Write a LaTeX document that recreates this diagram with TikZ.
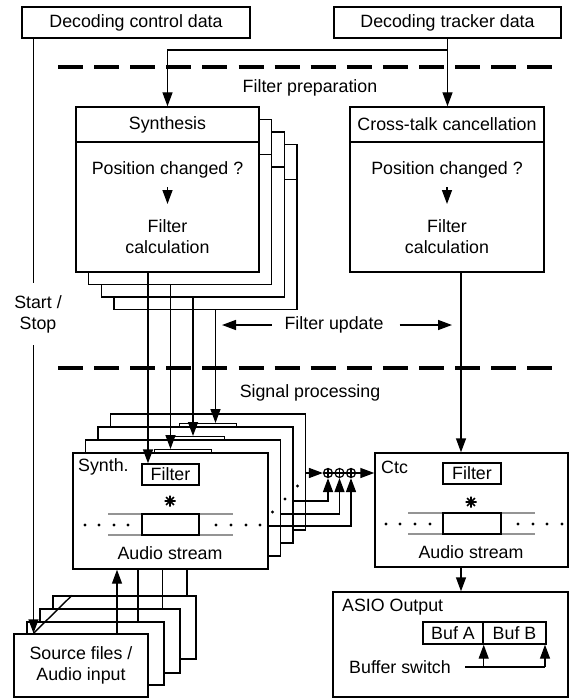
\documentclass[tikz,border=0pt]{standalone}
\usepackage{fontspec}
\setmainfont{Liberation Sans}
\usetikzlibrary{arrows.meta,calc}
\newcommand\rbox[6]{\node[box,minimum width={(#4)-(#2)},minimum height={(#5)-(#3)}] (#1) at ({((#2)+(#4))/2},{((#3)+(#5))/2}) {#6};}
% back copy of a synthesis box (its texts are hidden by the front box)
\newcommand\synback[3]{%
\begin{scope}[shift={(#2,#3)}]
 \rbox{#1}{76}{107}{259}{272}{}
 \rbox{#1h}{76}{107}{259}{142}{}
\end{scope}}
% back copy of a processing box
\newcommand\procback[3]{%
\begin{scope}[shift={(#2,#3)}]
 \rbox{#1}{73}{453}{268}{569}{}
 \node[box,line width=1pt,minimum width=57pt,minimum height=22pt] (#1f) at (170.5,473.5) {};
 \foreach \x in {216,231,246,260} \node[dot] at (\x,525) {};
\end{scope}}
\begin{document}
\begin{tikzpicture}[x=1pt,y=-1pt,
  font=\fontsize{17.8}{21}\selectfont,
  ln/.style={line width=1.4pt},
  arr/.style={line width=1.4pt,-{Triangle[length=14pt,width=10pt]}},
  box/.style={draw,line width=1.4pt,fill=white,inner sep=0pt,align=center},
  sep/.style={line width=3.3pt,dash pattern=on 25pt off 11.1pt},
  txt/.style={inner sep=0pt,align=center},
  dot/.style={circle,fill,inner sep=0pt,minimum size=3.2pt},
  graylin/.style={line width=1.4pt,draw=black!42},
  sumc/.style={circle,draw,line width=1.2pt,fill=white,inner sep=0pt,minimum size=9pt},
  convstar/.pic={\draw[line width=1.7pt] (-5.5,0) -- (5.5,0) (0,-5.5) -- (0,5.5) (-3.9,-3.9) -- (3.9,3.9) (-3.9,3.9) -- (3.9,-3.9);}
]
\useasboundingbox[fill=white] (0,0) rectangle (573,698);
% top boxes
\rbox{ctrl}{22}{7}{250}{38}{Decoding control data}
\rbox{trk}{334}{7}{561}{38}{Decoding tracker data}
% separators and section titles
\draw[sep] (58,67) -- (552,67);
\draw[sep] (58,368) -- (552,368);
\node[txt] (fp) at (310,88) {Filter preparation};
\node[txt] (sp) at (310,393) {Signal processing};
% synthesis stack
\synback{syn3}{38.1}{37.5}
\synback{syn2}{25.4}{25}
\synback{syn1}{12.7}{12.5}
\rbox{syn0}{76}{107}{259}{272}{}
\rbox{syn0h}{76}{107}{259}{142}{Synthesis}
\node[txt] (syn0p) at (167.5,170) {Position changed ?};
\node[txt] (syn0c) at (167.5,237) {Filter\\calculation};
\coordinate (syn0a) at (167.5,187);
\coordinate (syn0b) at (167.5,204);
\draw[arr] (syn0a) -- (syn0b);
% cross-talk cancellation
\rbox{ct}{350}{107}{544}{272}{}
\rbox{cth}{350}{107}{544}{142}{Cross-talk cancellation}
\node[txt] (ctp) at (447,170) {Position changed ?};
\node[txt] (ctcal) at (447,237) {Filter\\calculation};
\coordinate (cta) at (447,187);
\coordinate (ctb) at (447,204);
\draw[arr] (cta) -- (ctb);
% processing stack
\procback{p3}{37.5}{-39}
\procback{p2}{25}{-26}
\procback{p1}{12.5}{-13}
\rbox{p0}{73}{453}{268}{569}{}
\node[txt,anchor=west] (p0t) at (78,467) {Synth.};
\rbox{p0f}{142}{464}{199}{485}{Filter}
\pic at (170,501) {convstar};
\draw[graylin] (108,514) -- (233,514) (108,535) -- (233,535);
\rbox{p0r}{142}{514}{199}{535}{}
\foreach \x in {85,99,114,128,216,231,246,260} \node[dot] at (\x,525) {};
\node[txt] (p0a) at (170,553) {Audio stream};
% Ctc
\rbox{ctc}{375}{453}{568}{567}{}
\node[txt,anchor=west] (ctct) at (381,467) {Ctc};
\rbox{ctcf}{443}{463}{501}{484}{Filter}
\pic at (471,502) {convstar};
\draw[graylin] (408,513) -- (535,513) (408,534) -- (535,534);
\rbox{ctcr}{443}{513}{501}{534}{}
\foreach \x in {386,400,415,430,518,533,547,562} \node[dot] at (\x,524) {};
\node[txt] (ctcas) at (471,552) {Audio stream};
% ASIO
\rbox{asio}{333}{592}{568}{697}{}
\node[txt,anchor=west] (asiot) at (342,607) {ASIO Output};
\rbox{bufa}{423}{622}{483}{644}{Buf A}
\rbox{bufb}{483}{622}{546}{644}{Buf B}
\node[txt,anchor=east] (bsw) at (451,667) {Buffer switch};
% sources
\rbox{src3}{53}{596}{196}{659}{}
\rbox{src2}{40}{609}{180}{673}{}
\rbox{src1}{27}{622}{164}{685}{}
\rbox{src0}{14}{634}{148}{697}{Source files /\\Audio input}
% helper coordinates
\coordinate (xs) at (33.5,0);
\coordinate (xd) at (72,0);
\coordinate (br) at (447.5,50);
\coordinate (xa) at (148,0);
\coordinate (xb) at (170.5,0);
\coordinate (xc) at (193,0);
\coordinate (xe) at (215.5,0);
\coordinate (xr) at (461,0);
\coordinate (xu) at (117,0);
\coordinate (xv) at (138,0);
\coordinate (xw) at (162.5,0);
\coordinate (xz) at (187,0);
\coordinate (y2) at (0,501);
\coordinate (y1) at (0,514);
\coordinate (y0) at (0,526);
\coordinate (fuL) at (222,325);
\coordinate (fuR) at (452,325);
\coordinate (bsR) at (545,667);
% control line with start/stop
\draw[arr] (ctrl.south -| xs) -- (src0.north -| xs);
\node[fill=white,align=center,inner sep=0pt,minimum width=68pt,minimum height=62pt] (ss) at (38,314) {Start /\\Stop};
\draw[ln] (src0.north -| xs) -- (src3.north -| xd);
% tracker data
\draw[arr] (trk.south) -- (ct.north -| trk.south);
\draw[arr] (br) -| (syn0h.north);
% synthesis to processing
\draw[arr] (syn0.south -| xa) -- (p0f.north -| xa);
\draw[arr] (syn1.south -| xb) -- (p1f.north -| xb);
\draw[arr] (syn2.south -| xc) -- (p2f.north -| xc);
\draw[arr] (syn3.south -| xe) -- (p3f.north -| xe);
% filter update
\node[txt] (fu) at (334,325) {Filter update};
\draw[arr] ([xshift=-12.5pt]fu.west) -- (fuL);
\draw[arr] ([xshift=16pt]fu.east) -- (fuR);
% crosstalk to ctc to asio
\draw[arr] (ct.south -| xr) -- (ctc.north -| xr);
\draw[arr] (ctc.south -| xr) -- (asio.north -| xr);
% summation
\node[sumc] (s1) at (328,473) {};
\node[sumc] (s2) at (339.5,473) {};
\node[sumc] (s3) at (351,473) {};
\foreach \s in {s1,s2,s3} \draw[line width=1.2pt] (\s.north) -- (\s.south) (\s.west) -- (\s.east);
\draw[arr] (p3.east |- s1) -- (s1.west);
\draw[ln] (s1.east) -- (s2.west) (s2.east) -- (s3.west);
\draw[arr] (s3.east) -- (ctc.west |- s3);
\draw[arr] (p2.east |- y2) -| (s1.south);
\draw[arr] (p1.east |- y1) -| (s2.south);
\draw[arr] (p0.east |- y0) -| (s3.south);
% audio lines
\draw[arr] (src0.north -| xu) -- (p0.south -| xu);
\draw[ln] (p0.south -| xv) -- (src1.north -| xv);
\draw[ln] (p0.south -| xw) -- (src2.north -| xw);
\draw[ln] (p0.south -| xz) -- (src3.north -| xz);
% buffer switch
\draw[ln] ([xshift=14pt]bsw.east) -- (bsR);
\draw[arr] (bufa.south east |- bsR) -- (bufa.south east);
\draw[arr] (bsR) -- (bsR |- bufb.south);
\end{tikzpicture}
\end{document}
